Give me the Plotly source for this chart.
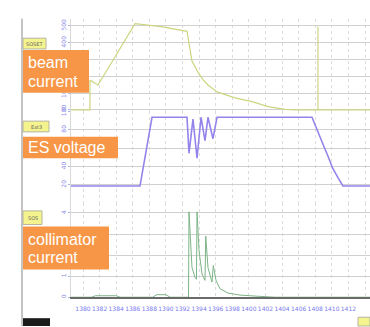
import plotly.graph_objects as go

W, H = 370, 327

# ---- data -------------------------------------------------------------
# time axis ticks (bottom labels)
tick_vals = list(range(1380, 1415, 2))
tick_text = [str(v) for v in tick_vals]

# beam current (top panel)
beam_t = [1378.55, 1380.84, 1380.84, 1381.81, 1386.27, 1389.40, 1392.54, 1392.72,
          1392.90, 1393.14, 1393.87, 1394.47, 1395.07, 1396.16, 1398.33, 1400.38,
          1402.31, 1404.36, 1405.56, 1408.33, 1408.33, 1408.33, 1414.60]
beam_v = [0, 0, 177, 148, 513, 495, 467, 420,
          362, 290, 223, 180, 148, 107, 72, 49,
          20, 3, 0, 0, 496, 0, 0]

# ES voltage (middle panel)
volt_t = [1378.55, 1386.87, 1388.32, 1392.54, 1392.78, 1393.26, 1393.75, 1394.23,
          1394.71, 1395.07, 1395.67, 1396.16, 1407.61, 1408.33, 1408.90, 1409.54,
          1410.10, 1410.74, 1411.34, 1414.60]
volt_v = [18.6, 18.6, 93.6, 93.6, 54.3, 91.5, 48.9, 93.6,
          68.1, 93.6, 70.2, 93.6, 93.6, 78.7, 65.0, 51.1,
          38.0, 27.7, 18.6, 18.6]

# collimator current (bottom panel)
coll_t = [1378.55, 1381.0, 1381.5, 1384.0, 1384.5, 1388.4, 1388.9, 1390.0, 1390.5,
          1392.72, 1392.78, 1392.90, 1393.14, 1393.50, 1393.68, 1393.75, 1393.99,
          1394.35, 1394.71, 1394.80, 1395.07, 1395.55, 1395.71, 1396.04, 1396.52,
          1397.48, 1398.93, 1400.98, 1403.15, 1414.60]
coll_v = [0, 0, 0.07, 0.07, 0, 0, 0.12, 0.12, 0,
          0, 4.05, 2.99, 1.41, 0.95, 0.85, 4.05, 2.2,
          1.1, 0.8, 2.9, 1.4, 0.72, 1.5, 0.8, 0.4,
          0.2, 0.1, 0.05, 0, 0]


def fx(px):
    return px / W


def fy(py):
    return 1 - py / H


x_range = [1378.553, 1414.603]
x_dom = [fx(71), 1.0]

fig = go.Figure()
fig.add_trace(go.Scatter(x=beam_t, y=beam_v, mode="lines", xaxis="x", yaxis="y",
                         line=dict(color="#cdd57f", width=1.2)))
fig.add_trace(go.Scatter(x=volt_t, y=volt_v, mode="lines", xaxis="x2", yaxis="y2",
                         line=dict(color="#9483ea", width=1.6)))
fig.add_trace(go.Scatter(x=coll_t, y=coll_v, mode="lines", xaxis="x3", yaxis="y3",
                         line=dict(color="#7db486", width=1.0)))

xcommon = dict(range=x_range, domain=x_dom, tickvals=tick_vals, showgrid=True,
               gridcolor="#dcdcdc", griddash="dot", gridwidth=1, zeroline=False)
ycommon = dict(showgrid=True, gridcolor="#d0d0d0", gridwidth=1, zeroline=False,
               showline=True, linecolor="#d8d8d8", linewidth=1,
               tickangle=-90, tickfont=dict(size=6, color="#8a8ae8", family="DejaVu Sans"),
               ticks="outside", ticklen=2, tickcolor="#b0b0e8")

fig.update_layout(
    width=W, height=H, margin=dict(l=0, r=0, t=0, b=0),
    paper_bgcolor="white", plot_bgcolor="white", showlegend=False,
    xaxis=dict(**xcommon, anchor="y", showticklabels=False),
    xaxis2=dict(**xcommon, anchor="y2", showticklabels=False),
    xaxis3=dict(**xcommon, anchor="y3", showticklabels=True, ticktext=tick_text,
                tickangle=0, ticks="outside", ticklen=5, tickcolor="rgba(0,0,0,0)",
                tickfont=dict(size=6, color="#7a7aee", family="DejaVu Sans"),
                showline=True, linecolor="#6a6a6a", linewidth=1.5),
    yaxis=dict(**ycommon, anchor="x", domain=[fy(108), fy(12)], range=[-14.5, 542],
               tickvals=[0, 100, 200, 300, 400, 500]),
    yaxis2=dict(**ycommon, anchor="x2", domain=[fy(201), fy(107)], range=[0, 100],
                tickvals=[20, 40, 60, 80, 100]),
    yaxis3=dict(**ycommon, anchor="x3", domain=[fy(297.5), fy(201)], range=[0, 4.468],
                tickvals=[0, 1, 2, 3, 4]),
)

shapes = []
annotations = []

# left frame line
shapes.append(dict(type="line", xref="paper", yref="paper", x0=fx(22), x1=fx(22),
                   y0=fy(12), y1=fy(327), line=dict(color="#c4c4c4", width=2)))

# small yellow channel tags
tags = [
    (23, 46, 32, 43, "SOSET"),
    (23, 49, 117, 128, "Ext3"),
    (23, 42, 209, 223, "SOS"),
]
for x0, x1, y0, y1, txt in tags:
    shapes.append(dict(type="rect", xref="paper", yref="paper",
                       x0=fx(x0), x1=fx(x1), y0=fy(y1), y1=fy(y0),
                       fillcolor="#f4f38e", line=dict(color="#b5b5a0", width=1)))
    annotations.append(dict(xref="paper", yref="paper", x=fx((x0 + x1) / 2),
                            y=fy((y0 + y1) / 2), xanchor="center", yanchor="middle",
                            text=txt, showarrow=False, borderpad=0,
                            font=dict(size=5, color="#666666", family="DejaVu Sans")))

# bottom corner tags
shapes.append(dict(type="rect", xref="paper", yref="paper", x0=fx(23), x1=fx(50),
                   y0=fy(327), y1=fy(319), fillcolor="#1a1a1a", line=dict(width=0)))
shapes.append(dict(type="rect", xref="paper", yref="paper", x0=fx(358), x1=fx(370),
                   y0=fy(327), y1=fy(318), fillcolor="#f4f38e",
                   line=dict(color="#b5b5a0", width=1)))

# orange signal labels
orange = "#f79646"
boxes = [
    (23, 89, 44, 88, [("beam", 57), ("current", 76)]),
    (23, 118, 133, 155, [("ES voltage", 144)]),
    (23, 109, 225, 269, [("collimator", 238), ("current", 257)]),
]
for x0, x1, y0, y1, lines in boxes:
    shapes.append(dict(type="rect", xref="paper", yref="paper",
                       x0=fx(x0), x1=fx(x1), y0=fy(y1), y1=fy(y0),
                       fillcolor=orange, line=dict(width=0)))
    for txt, yc in lines:
        annotations.append(dict(xref="paper", yref="paper", x=fx(27), y=fy(yc),
                                xanchor="left", yanchor="middle", text=txt,
                                showarrow=False, borderpad=0,
                                font=dict(size=16, color="white",
                                          family="Liberation Sans, Arial")))

fig.update_layout(shapes=shapes, annotations=annotations)
fig.write_html("out.html")
